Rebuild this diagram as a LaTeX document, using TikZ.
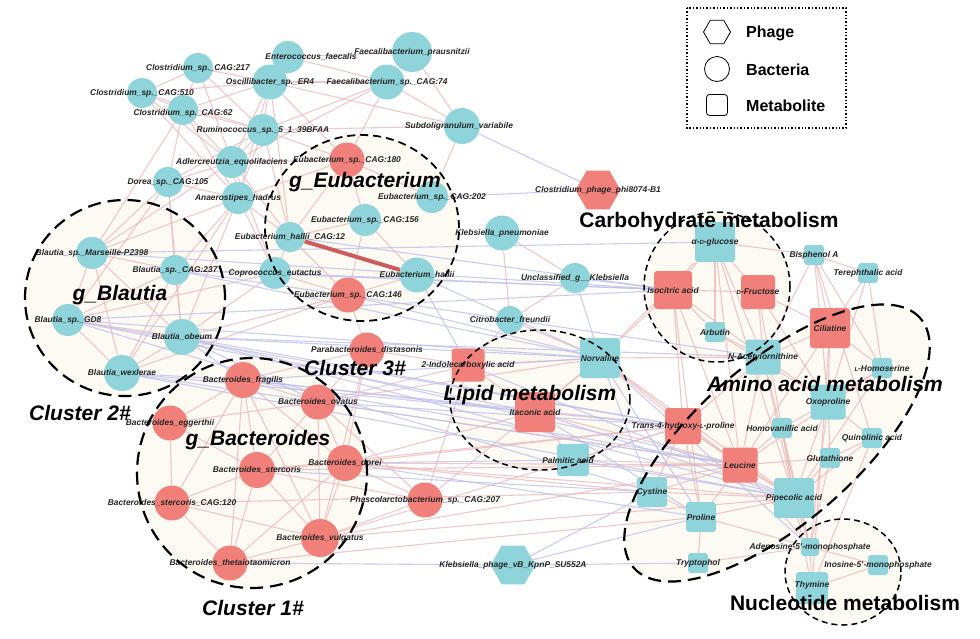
\documentclass[tikz,border=0pt]{standalone}
\usepackage{fontspec}
\setmainfont{Liberation Sans}
\usetikzlibrary{shapes.geometric}

\definecolor{bacblue}{RGB}{142,212,218}
\definecolor{bacred}{RGB}{242,128,122}
\definecolor{posedge}{RGB}{236,186,186}
\definecolor{negedge}{RGB}{190,192,236}
\definecolor{clcream}{RGB}{252,250,243}
\definecolor{strongedge}{RGB}{206,92,92}

\pgfdeclarelayer{bg}
\pgfdeclarelayer{edges}
\pgfdeclarelayer{fg}
\pgfsetlayers{bg,edges,main,fg}

\newcommand{\labfont}{\fontsize{8.4}{9}\selectfont\bfseries\itshape}
\newcommand{\bigfont}{\fontsize{21}{24}\selectfont\bfseries}
\newcommand{\smallcap}[1]{{\fontsize{6}{6}\selectfont #1}}

\begin{document}
\begin{tikzpicture}[
  x=1pt, y=-1pt,
  bac/.style={circle, inner sep=0pt, fill=bacblue, minimum size=#1},
  bacr/.style={bac=#1, fill=bacred},
  met/.style={rectangle, rounded corners=3pt, inner sep=0pt, fill=bacblue, minimum width=#1, minimum height=#1},
  metr/.style={met=#1, fill=bacred},
  phg/.style={regular polygon, regular polygon sides=6, inner sep=0pt, fill=bacblue, minimum size=#1},
  phgr/.style={phg=#1, fill=bacred},
  every label/.style={font=\labfont, text=black!85, inner sep=0pt},
  posline/.style={draw=posedge, line width=1.1pt, opacity=0.8},
  negline/.style={draw=negedge, line width=1.1pt, opacity=0.8},
  bigdash/.style={draw=black, line width=2.2pt, dash pattern=on 13pt off 7pt},
  smalldash/.style={draw=black, line width=1.5pt, dash pattern=on 6pt off 4pt},
  title/.style={font=\bigfont, inner sep=0pt},
  ititle/.style={font=\bigfont\itshape, inner sep=0pt},
  legtext/.style={font=\fontsize{16}{18}\selectfont\bfseries, anchor=west, inner sep=0pt}
]
\useasboundingbox (0,0) rectangle (980,638);

% cluster backgrounds
\begin{pgfonlayer}{bg}
  \fill[clcream] (125,298) ellipse [x radius=100pt, y radius=98pt];
  \fill[clcream] (252,473) ellipse [x radius=115pt, y radius=115pt];
  \fill[clcream] (362,228) ellipse [x radius=97pt, y radius=93pt];
  \fill[clcream] (540,400) ellipse [x radius=90pt, y radius=70pt];
  \fill[clcream] (717,287) ellipse [x radius=73pt, y radius=75pt];
  \fill[clcream, rotate around={41:(777,443)}] (777,443) ellipse [x radius=190pt, y radius=80pt];
  \fill[clcream] (843,572) ellipse [x radius=58pt, y radius=53pt];
\end{pgfonlayer}

% bacteria, upper group
\node[bac=30] (c217) at (198,68) [label={center:{Clostridium\_sp.\_CAG:217}}] {};
\node[bac=30] (c510) at (142,93) [label={center:{Clostridium\_sp.\_CAG:510}}] {};
\node[bac=30] (c62) at (183,110) [label={[yshift=-3pt]center:{Clostridium\_sp.\_CAG:62}}] {};
\node[bac=35] (osc) at (270,82) [label={center:{Oscillibacter\_sp.\_ER4}}] {};
\node[bac=35] (fc74) at (387,82) [label={center:{Faecalibacterium\_sp.\_CAG:74}}] {};
\node[bac=40] (fpr) at (412,52) [label={center:{Faecalibacterium\_prausnitzii}}] {};
\node[bac=32] (ent) at (288,57) [label={[xshift=23pt]center:{Enterococcus\_faecalis}}] {};
\node[bac=32] (rum) at (263,130) [label={center:{Ruminococcus\_sp.\_5\_1\_39BFAA}}] {};
\node[bac=36] (sub) at (462,126) [label={[xshift=-3pt]center:{Subdoligranulum\_variabile}}] {};
\node[bac=32] (adl) at (232,162) [label={center:{Adlercreutzia\_equolifaciens}}] {};
\node[bacr=35] (e180) at (347,160) [label={center:{Eubacterium\_sp.\_CAG:180}}] {};
\node[bac=30] (dor) at (168,182) [label={center:{Dorea\_sp.\_CAG:105}}] {};
\node[bac=32] (ana) at (238,198) [label={center:{Anaerostipes\_hadrus}}] {};
\node[bac=32] (e202) at (432,197) [label={center:{Eubacterium\_sp.\_CAG:202}}] {};
\node[bac=32] (e156) at (365,220) [label={center:{Eubacterium\_sp.\_CAG:156}}] {};
\node[bac=30] (eh12) at (290,237) [label={center:{Eubacterium\_hallii\_CAG:12}}] {};
\node[bac=35] (kpn) at (502,233) [label={center:{Klebsiella\_pneumoniae}}] {};
\node[bac=35] (ehal) at (417,275) [label={center:{Eubacterium\_hallii}}] {};
\node[bac=32] (cop) at (275,273) [label={center:{Coprococcus\_eutactus}}] {};
\node[bacr=35] (e146) at (348,295) [label={center:{Eubacterium\_sp.\_CAG:146}}] {};
\node[bac=30] (ukl) at (575,278) [label={center:{Unclassified\_g\_\_Klebsiella}}] {};
\node[bac=28] (cit) at (510,320) [label={center:{Citrobacter\_freundii}}] {};
\node[bacr=35] (pdis) at (367,350) [label={center:{Parabacteroides\_distasonis}}] {};
\node[bacr=35] (phas) at (425,500) [label={center:{Phascolarctobacterium\_sp.\_CAG:207}}] {};

% g_Blautia
\node[bac=32] (bmar) at (92,253) [label={center:{Blautia\_sp.\_Marseille-P2398}}] {};
\node[bac=30] (b237) at (175,270) [label={center:{Blautia\_sp.\_CAG:237}}] {};
\node[bac=32] (bgd8) at (68,320) [label={center:{Blautia\_sp.\_GD8}}] {};
\node[bac=36] (bobe) at (182,337) [label={center:{Blautia\_obeum}}] {};
\node[bac=36] (bwex) at (122,373) [label={center:{Blautia\_wexlerae}}] {};

% g_Bacteroides
\node[bacr=36] (bfra) at (243,380) [label={center:{Bacteroides\_fragilis}}] {};
\node[bacr=35] (bova) at (318,402) [label={center:{Bacteroides\_ovatus}}] {};
\node[bacr=35] (begg) at (170,423) [label={center:{Bacteroides\_eggerthii}}] {};
\node[bacr=36] (bdor) at (345,463) [label={center:{Bacteroides\_dorei}}] {};
\node[bacr=36] (bste) at (257,470) [label={center:{Bacteroides\_stercoris}}] {};
\node[bacr=35] (bs120) at (172,503) [label={center:{Bacteroides\_stercoris\_CAG:120}}] {};
\node[bacr=38] (bvul) at (320,538) [label={center:{Bacteroides\_vulgatus}}] {};
\node[bacr=35] (bthe) at (230,563) [label={center:{Bacteroides\_thetaiotaomicron}}] {};

% phages
\node[phgr=45] (cph) at (598,190) [label={center:{Clostridium\_phage\_phi8074-B1}}] {};
\node[phg=45] (kph) at (513,565) [label={center:{Klebsiella\_phage\_vB\_KpnP\_SU552A}}] {};

% metabolites
\node[metr=33] (ind) at (468,365) [label={center:{2-Indolecarboxylic acid}}] {};
\node[met=40] (norv) at (600,358) [label={center:{Norvaline}}] {};
\node[metr=40] (ita) at (535,412) [label={center:{Itaconic acid}}] {};
\node[met=32] (palm) at (573,460) [label={[xshift=-5pt]center:{Palmitic acid}}] {};
\node[met=40] (glc) at (715,242) [label={center:{α-\smallcap{D}-glucose}}] {};
\node[metr=38] (iso) at (673,290) [label={center:{Isocitric acid}}] {};
\node[metr=34] (fru) at (758,292) [label={center:{\smallcap{D}-Fructose}}] {};
\node[met=20] (bis) at (814,255) [label={center:{Bisphenol A}}] {};
\node[met=20] (ter) at (868,273) [label={center:{Terephthalic acid}}] {};
\node[met=20] (arb) at (715,332) [label={center:{Arbutin}}] {};
\node[met=35] (nac) at (763,357) [label={center:{N-Acetylornithine}}] {};
\node[metr=40] (cil) at (830,328) [label={center:{Ciliatine}}] {};
\node[met=20] (hom) at (882,368) [label={center:{\smallcap{L}-Homoserine}}] {};
\node[met=35] (oxo) at (828,402) [label={center:{Oxoproline}}] {};
\node[metr=36] (thp) at (683,426) [label={center:{Trans-4-hydroxy-\smallcap{L}-proline}}] {};
\node[met=20] (hva) at (782,428) [label={center:{Homovanillic acid}}] {};
\node[met=20] (qui) at (872,438) [label={center:{Quinolinic acid}}] {};
\node[met=20] (glu) at (830,458) [label={center:{Glutathione}}] {};
\node[metr=35] (leu) at (740,465) [label={center:{Leucine}}] {};
\node[met=30] (cys) at (652,492) [label={center:{Cystine}}] {};
\node[met=40] (pip) at (794,498) [label={center:{Pipecolic acid}}] {};
\node[met=30] (pro) at (701,517) [label={center:{Proline}}] {};
\node[met=20] (try) at (698,563) [label={center:{Tryptophol}}] {};
\node[met=18] (amp) at (810,547) [label={center:{Adenosine-5'-monophosphate}}] {};
\node[met=20] (imp) at (878,565) [label={center:{Inosine-5'-monophosphate}}] {};
\node[met=32] (thy) at (812,588) [label={[yshift=3pt]center:{Thymine}}] {};

% correlations
\begin{pgfonlayer}{edges}
  \foreach \a/\b in {c217/c510, c217/c62, c217/osc, c217/rum, c217/adl, c510/c62, c510/osc,
      c510/rum, c510/adl, c510/ana, c62/osc, c62/rum, c62/adl, c62/dor, c62/ana, c62/bmar,
      osc/fc74, osc/ent, osc/rum, osc/adl, osc/ana, osc/sub, osc/e180, osc/eh12, fc74/fpr,
      fc74/ent, fc74/sub, fc74/rum, fc74/adl, fc74/e180, fpr/sub, fpr/ent, rum/adl, rum/ana,
      rum/e180, rum/sub, rum/dor, rum/eh12, adl/ana, adl/dor, adl/e180, adl/eh12, adl/bmar,
      adl/cop, dor/ana, dor/bmar, dor/b237, dor/bgd8, dor/bobe, ana/e180, ana/eh12, ana/bobe,
      ana/bmar, ana/cop, ana/bwex, ana/b237, e180/e156, e180/eh12, e180/e202, e156/eh12,
      e156/e146, e156/ehal, eh12/cop, eh12/e146, cop/e146, cop/b237, cop/bobe, cop/bgd8,
      e146/bobe, e146/ehal, e146/bwex, kpn/ukl, kpn/cit, ukl/cit, cit/norv, cit/ind, sub/e202,
      bmar/b237, bmar/bgd8, bmar/bobe, bmar/bwex, b237/bobe, b237/bgd8, b237/bwex, bgd8/bobe,
      bgd8/bwex, bobe/bwex,
      bfra/bova, bfra/begg, bfra/bste, bfra/bdor, bfra/bvul, bfra/bthe, bfra/bs120, bova/bste,
      bova/bdor, bova/bvul, bova/begg, begg/bs120, begg/bste, bste/bs120, bste/bvul, bste/bthe,
      bste/bdor, bdor/bvul, bs120/bthe, bs120/bvul, bthe/bvul, bdor/bthe,
      pdis/bfra, pdis/bova, pdis/bdor, pdis/ind, pdis/e146, pdis/bvul, phas/bdor, phas/bste,
      phas/bvul, phas/ind, phas/norv, phas/bova, bdor/ita, bdor/thp, bvul/leu, bdor/leu,
      bova/ind, bvul/pip, bova/norv, bste/thp, bvul/thp, bthe/pro, bs120/cys, bova/leu,
      bdor/pip, bdor/cys, bste/leu,
      glc/iso, glc/fru, glc/arb, glc/nac, glc/bis, glc/leu, glc/pip, iso/fru, iso/arb, iso/nac,
      iso/thp, iso/leu, iso/pro, fru/nac, fru/cil, fru/oxo, fru/pip, bis/ter, bis/cil, bis/hom,
      bis/nac, bis/oxo, bis/qui, ter/cil, ter/hom, ter/oxo, cil/nac, cil/oxo, cil/hom, cil/leu,
      cil/thy, nac/oxo, nac/thp, nac/leu, nac/pip, nac/amp, oxo/hva, oxo/qui, oxo/glu, oxo/pip,
      oxo/amp, thp/leu, thp/cys, thp/pro, thp/pip, hva/leu, hva/pip, qui/glu, qui/pip, qui/thy,
      glu/leu, glu/pip, leu/pip, leu/cys, leu/pro, leu/amp, pip/pro, pip/cys, pip/amp, pip/thy,
      cys/pro, pro/try, pro/amp, amp/thy, amp/imp, imp/thy, try/amp, norv/iso, norv/nac,
      norv/thp, norv/leu, norv/pip, norv/ita, norv/glc, ita/thp, ita/leu, ita/palm, palm/thp,
      palm/leu, ind/norv, ind/ita, arb/nac, arb/oxo, hom/oxo, hom/pip, hom/leu, glu/amp, hva/amp}
    \draw[posline] (\a) -- (\b);
  \foreach \a/\b in {bgd8/iso, bgd8/norv, bobe/norv, bobe/nac, bobe/thp, b237/iso, bmar/glc,
      bwex/leu, bobe/pip, bgd8/cys, bobe/bfra, bwex/bfra, bobe/bova, b237/norv, bwex/ita,
      cop/iso, e146/norv, ehal/norv, ehal/ind, eh12/iso, ukl/iso, ukl/norv, sub/cph, e202/cph,
      bthe/kph, kph/try, kph/pro, kph/cys, bdor/palm, bdor/pro, bste/cys, norv/cys, norv/pro,
      ita/pro, palm/pip, ita/pip, norv/amp, ind/pip, bova/thp, bfra/norv, bfra/ita,
      bgd8/ita, bmar/iso, bobe/leu, bwex/pip, bgd8/thp, b237/nac, bfra/thp, bfra/leu}
    \draw[negline] (\a) -- (\b);
  \draw[draw=strongedge, line width=4pt] (eh12) -- (ehal);
\end{pgfonlayer}

% cluster outlines and titles
\begin{pgfonlayer}{fg}
  \draw[bigdash] (125,298) ellipse [x radius=100pt, y radius=98pt];
  \draw[bigdash] (252,473) ellipse [x radius=115pt, y radius=115pt];
  \draw[smalldash, line width=1.8pt, dash pattern=on 8pt off 5pt] (362,228) ellipse [x radius=97pt, y radius=93pt];
  \draw[smalldash] (540,400) ellipse [x radius=90pt, y radius=70pt];
  \draw[smalldash] (717,287) ellipse [x radius=73pt, y radius=75pt];
  \draw[bigdash, rotate around={41:(777,443)}] (777,443) ellipse [x radius=190pt, y radius=80pt];
  \draw[smalldash] (843,572) ellipse [x radius=58pt, y radius=53pt];

  \node[ititle] (tEub) at (365,182) {g\_Eubacterium};
  \node[ititle] (tBla) at (120,295) {g\_Blautia};
  \node[ititle] (tBac) at (258,440) {g\_Bacteroides};
  \node[ititle] (tCl1) at (253,608) {Cluster 1\#};
  \node[ititle] (tCl2) at (80,413) {Cluster 2\#};
  \node[ititle] (tCl3) at (355,368) {Cluster 3\#};
  \node[title] (tCarb) at (709,222) {Carbohydrate metabolism};
  \node[ititle] (tLip) at (530,395) {Lipid metabolism};
  \node[ititle] (tAmi) at (825,384) {Amino acid metabolism};
  \node[title] (tNuc) at (845,603) {Nucleotide metabolism};

  % legend
  \draw[dotted, line width=1.4pt] (687,8) rectangle (846,128);
  \node[phg=27, fill=none, draw, thick] (lgPhage) at (717,32) {};
  \node[circle, draw, thick, minimum size=25pt, inner sep=0pt] (lgBact) at (717,69) {};
  \node[rectangle, rounded corners=3pt, draw, thick, minimum size=21pt, inner sep=0pt] (lgMet) at (717,105) {};
  \node[legtext] (lgPhageT) at (746,33) {Phage};
  \node[legtext] (lgBactT) at (746,70) {Bacteria};
  \node[legtext] (lgMetT) at (746,106) {Metabolite};
\end{pgfonlayer}
\end{tikzpicture}
\end{document}
